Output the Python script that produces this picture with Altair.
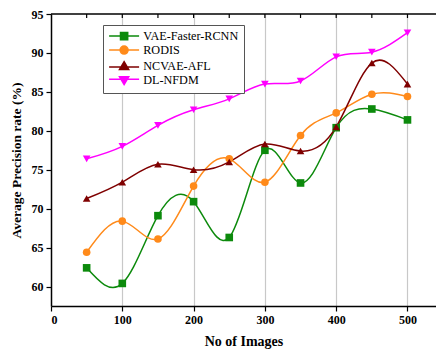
import altair as alt
import pandas as pd

images = [50, 100, 150, 200, 250, 300, 350, 400, 450, 500]
vae = [62.4, 60.4, 69.1, 70.9, 66.3, 77.5, 73.3, 80.4, 82.8, 81.4]
rodis = [64.4, 68.4, 66.1, 72.9, 76.4, 73.4, 79.4, 82.3, 84.7, 84.4]
ncvae = [71.3, 73.4, 75.7, 75.0, 76.0, 78.3, 77.4, 80.5, 88.7, 86.0]
dlnfdm = [76.4, 78.0, 80.7, 82.7, 84.1, 86.0, 86.4, 89.5, 90.1, 92.6]

series = ["VAE-Faster-RCNN", "RODIS", "NCVAE-AFL", "DL-NFDM"]
colors = ["#0C8A0C", "#FF8A1A", "#7F0000", "#FF00FF"]
shapes = ["square", "circle", "triangle-up", "triangle-down"]
legend_paths = [
    "M-3.75,0H3.75M-0.9,-0.9H0.9V0.9H-0.9Z",
    "M-3.75,0H3.75M1,0A1,1 0 1,1 -1,0A1,1 0 1,1 1,0Z",
    "M-3.75,0.2H3.75M0,-1.1L1.15,0.85H-1.15Z",
    "M-3.75,-0.2H3.75M0,1.1L1.15,-0.85H-1.15Z",
]

x_ticks = [0, 50, 100, 150, 200, 250, 300, 350, 400, 450, 500]
y_ticks = [60, 62.5, 65, 67.5, 70, 72.5, 75, 77.5, 80, 82.5, 85, 87.5, 90, 92.5, 95]

rows = []
for name, vals in zip(series, [vae, rodis, ncvae, dlnfdm]):
    for xv, yv in zip(images, vals):
        rows.append({"images": xv, "rate": yv, "series": name})
df = pd.DataFrame(rows)

FONT = "Liberation Serif"
W, H = 385, 292

x_enc = alt.X(
    "images:Q",
    scale=alt.Scale(domain=[0, 540], nice=False),
    axis=alt.Axis(
        title="No of Images",
        values=x_ticks,
        labelExpr="datum.value % 100 === 0 ? datum.label : ''",
        tickSize=5,
        tickColor="black",
        tickWidth=1.2,
        domainColor="black",
        domainWidth=1.5,
        labelFont=FONT,
        labelFontWeight="bold",
        labelFontSize=12,
        labelColor="black",
        labelPadding=3,
        titleFont=FONT,
        titleFontWeight="bold",
        titleFontSize=14,
        titleColor="black",
        titlePadding=9,
        grid=True,
        gridColor={"condition": {"test": "datum.value % 100 === 0", "value": "#c8c8c8"}, "value": "#dddddd"},
        gridDash={"condition": {"test": "datum.value % 100 === 0", "value": []}, "value": [1, 2]},
        gridWidth={"condition": {"test": "datum.value % 100 === 0", "value": 1.2}, "value": 0.8},
        gridOpacity={"condition": {"test": "datum.value === 0", "value": 0}, "value": 1},
    ),
)
y_enc = alt.Y(
    "rate:Q",
    scale=alt.Scale(domain=[57.5, 95], nice=False, zero=False),
    axis=alt.Axis(
        title="Average Precision rate (%)",
        values=y_ticks,
        labelExpr="datum.value % 5 === 0 ? datum.label : ''",
        tickSize={"condition": {"test": "datum.value % 5 === 0", "value": 5}, "value": 3},
        tickColor="black",
        tickWidth=1.2,
        domainColor="black",
        domainWidth=1.5,
        labelFont=FONT,
        labelFontWeight="bold",
        labelFontSize=12,
        labelColor="black",
        labelPadding=3,
        titleFont=FONT,
        titleFontWeight="bold",
        titleFontSize=13.5,
        titleColor="black",
        titlePadding=8,
        grid=True,
        gridColor="#dddddd",
        gridDash=[1, 2],
        gridWidth=0.8,
        gridOpacity={"condition": {"test": "datum.value % 5 === 0", "value": 0}, "value": 1},
    ),
)

base = alt.Chart(df)

lines = base.mark_line(interpolate="natural", strokeWidth=1.5).encode(
    x=x_enc,
    y=y_enc,
    stroke=alt.Stroke("series:N", scale=alt.Scale(domain=series, range=colors), legend=None),
    detail="series:N",
)

points = base.mark_point(filled=True, opacity=1, size=58, strokeWidth=0.5).encode(
    x="images:Q",
    y="rate:Q",
    fill=alt.Fill("series:N", scale=alt.Scale(domain=series, range=colors), legend=None),
    shape=alt.Shape("series:N", scale=alt.Scale(domain=series, range=shapes), legend=None),
)

legend_cfg = dict(
    title=None,
    orient="none",
    legendX=52,
    legendY=11,
    labelFont=FONT,
    labelFontSize=12.2,
    labelColor="black",
    symbolSize=64,
    symbolStrokeWidth=1.5,
    symbolOffset=10,
    labelOffset=13,
    rowPadding=0,
    padding=5,
    strokeColor="#555555",
    fillColor="white",
)

# legend-only layer: no visible marks (filtered out), legend built from explicit scale domains
legend_layer = base.transform_filter("datum.rate > 1000").mark_point(filled=True, opacity=1).encode(
    x="images:Q",
    y="rate:Q",
    fill=alt.Fill("series:N", scale=alt.Scale(domain=series, range=colors), legend=alt.Legend(**legend_cfg)),
    stroke=alt.Stroke("series:N", scale=alt.Scale(domain=series, range=colors), legend=alt.Legend(**legend_cfg)),
    shape=alt.Shape("series:N", scale=alt.Scale(domain=series, range=legend_paths), legend=alt.Legend(**legend_cfg)),
)

top_border = alt.Chart(pd.DataFrame({"v": [0]})).mark_rule(color="black", strokeWidth=1.5).encode(
    x=alt.value(0), x2=alt.value(W + 5), y=alt.value(0)
)

top_ticks = alt.Chart(pd.DataFrame({"t": x_ticks[1:]})).mark_rule(color="black", strokeWidth=1.2).encode(
    x=alt.X("t:Q"), y=alt.value(0), y2=alt.value(4)
)

chart = (
    alt.layer(lines, points, top_ticks, top_border, legend_layer)
    .resolve_scale(shape="independent", fill="independent", stroke="independent")
    .resolve_legend(shape="independent", fill="independent", stroke="independent")
    .properties(
        width=W,
        height=H,
        autosize=alt.AutoSizeParams(type="none"),
        padding={"left": 51, "top": 14, "right": 0, "bottom": 45},
        background="white",
    )
    .configure_view(stroke=None)
)

chart.save("out.html", embed_options={"renderer": "svg", "actions": False})
